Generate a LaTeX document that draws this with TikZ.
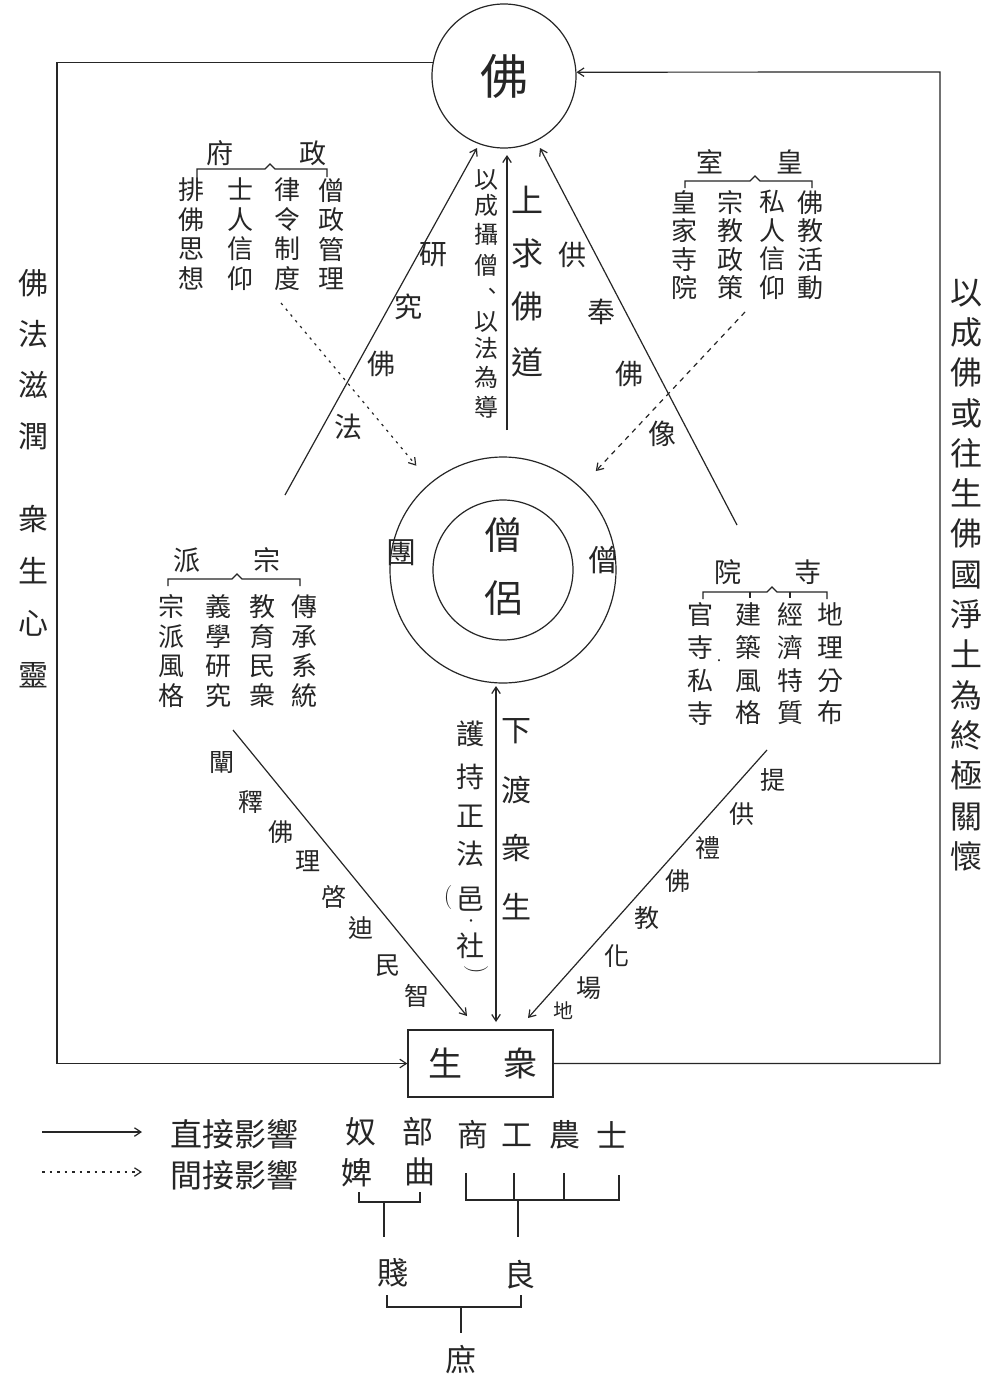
\documentclass[tikz,border=0pt]{standalone}
\usepackage{fontspec}
\newfontfamily\cjk{Noto Sans CJK TC}
\usetikzlibrary{arrows.meta}
\begin{document}
\begin{tikzpicture}[x=1pt,y=-1pt,
  ln/.style={line width=1.2pt,draw=black!85},
  arr/.style={-{Straight Barb[length=6.5pt,width=8.5pt]}},
  darr/.style={{Straight Barb[length=6.5pt,width=8.5pt]}-{Straight Barb[length=6.5pt,width=8.5pt]}},
  fs/.style={font=\cjk\fontsize{#1}{#1}\selectfont,inner sep=0pt,text=black!85},
  col/.style 2 args={font=\cjk\fontsize{#1}{#2}\selectfont,inner sep=0pt,align=center,text=black!85},
  dotl/.style={line width=1.2pt,draw=black!85,dash pattern=on 2.5pt off 5pt},
  dashl/.style={line width=1.2pt,draw=black!85,dash pattern=on 5pt off 5pt},
]
\useasboundingbox[fill=white] (0,0) rectangle (994,1386);

% ---- main circles and box
\node[circle,ln,draw,minimum size=144pt,inner sep=0pt,fs=48] (fo) at (504,76) {佛};
\node[circle,ln,draw,minimum size=226pt,inner sep=0pt] (sc) at (503,570) {};
\node[circle,ln,draw,minimum size=140pt,inner sep=0pt] (sci) at (503,570) {};
\node[fs=38] (sc1) at (503,535) {僧};
\node[fs=38] (sc2) at (503,598) {侶};
\node[fs=30] (sc3) at (401,553) {團};
\node[fs=30] (sc4) at (603,560) {僧};
\node[draw,ln,minimum width=145pt,minimum height=67pt,inner sep=0pt] (zs) at (480.5,1063.5) {};
\node[fs=34] (zs1) at (445,1063) {生};
\node[fs=34] (zs2) at (520,1063) {衆};

% ---- outer frame
\draw[ln,arr] (fo.169) -| (57,1063.5) -- (zs.west);
\draw[ln,arr] (zs.east) -| (940,72) -- (fo.3);

% ---- side texts
\node[col={30}{51}] (lt1) at (33,360) {佛\\法\\滋\\潤};
\node[col={30}{52}] (lt2) at (33,597) {衆\\生\\心\\靈};
\node[col={32}{40.3}] (rt) at (966,575) {以\\成\\佛\\或\\往\\生\\佛\\國\\淨\\土\\為\\終\\極\\關\\懷};

% ---- group: 政府
\node[fs=27] (zf1) at (220,153) {府};
\node[fs=27] (zf2) at (313,153) {政};
\draw[ln] (197,177) -- (197,169) -- (265,169) -- (270,164) -- (275,169) -- (327,169) -- (327,177);
\node[col={26}{29.5}] (zfa) at (331,234) {僧\\政\\管\\理};
\node[col={26}{29.5}] (zfb) at (287,234) {律\\令\\制\\度};
\node[col={26}{29.5}] (zfc) at (240,234) {士\\人\\信\\仰};
\node[col={26}{29.5}] (zfd) at (191,234) {排\\佛\\思\\想};

% ---- group: 皇室
\node[fs=27] (hs1) at (710,162) {室};
\node[fs=27] (hs2) at (790,162) {皇};
\draw[ln] (685,188) -- (685,181) -- (750,181) -- (755,176) -- (760,181) -- (812,181) -- (812,188);
\node[col={26}{28.5}] (hsa) at (810,245) {佛\\教\\活\\動};
\node[col={26}{28.5}] (hsb) at (772,245) {私\\人\\信\\仰};
\node[col={26}{28.5}] (hsc) at (730,245) {宗\\教\\政\\策};
\node[col={26}{28.5}] (hsd) at (684,245) {皇\\家\\寺\\院};

% ---- group: 宗派
\node[fs=27] (zp1) at (187,560) {派};
\node[fs=27] (zp2) at (267,560) {宗};
\draw[ln] (168,586) -- (168,579) -- (232,579) -- (237,574) -- (242,579) -- (300,579) -- (300,586);
\node[col={26}{29.5}] (zpa) at (304,651) {傳\\承\\系\\統};
\node[col={26}{29.5}] (zpb) at (262,651) {教\\育\\民\\衆};
\node[col={26}{29.5}] (zpc) at (218,651) {義\\學\\研\\究};
\node[col={26}{29.5}] (zpd) at (171,651) {宗\\派\\風\\格};

% ---- group: 寺院
\node[fs=27] (sy1) at (728,572) {院};
\node[fs=27] (sy2) at (808,572) {寺};
\draw[ln] (703,599) -- (703,592) -- (767,592) -- (772,587) -- (777,592) -- (827,592) -- (827,599);
\draw[ln] (750,592) -- (750,598) (790,592) -- (790,598);
\node[col={26}{32.7}] (sya) at (830,664) {地\\理\\分\\布};
\node[col={26}{32.7}] (syb) at (790,664) {經\\濟\\特\\質};
\node[col={26}{32.7}] (syc) at (748,664) {建\\築\\風\\格};
\node[col={26}{32.7}] (syd) at (700,664) {官\\寺\\私\\寺};
\node[fs=10] (sydot) at (719,662) {·};

% ---- indirect (dotted) influences
\coordinate (zfS) at (281,303);
\coordinate (hsS) at (745,312);
\draw[dotl,arr,shorten >=22pt] (zfS) -- (sc);
\draw[dashl,arr,shorten >=22pt] (hsS) -- (sc);

% ---- upper direct lines
\coordinate (upL) at (285,495);
\coordinate (upLt) at (477,148);
\coordinate (upR) at (737,525);
\coordinate (upRt) at (540,148);
\coordinate (upM) at (507,430);
\coordinate (upMt) at (507,155);
\draw[ln,arr] (upL) -- (upLt);
\draw[ln,arr] (upR) -- (upRt);
\draw[ln,arr] (upM) -- (upMt);

\foreach \c/\x/\y [count=\i] in {研/433/255,究/408/307,佛/381/364,法/348/427}
  \node[fs=28] (la\i) at (\x,\y) {\c};
\foreach \c/\x/\y [count=\i] in {供/572/255,奉/601/312,佛/629/374,像/662/434}
  \node[fs=28] (ra\i) at (\x,\y) {\c};
\foreach \c/\y [count=\i] in {上/200,求/253,佛/306,道/362}
  \node[fs=32] (ma\i) at (527,\y) {\c};
\foreach \c/\y [count=\i] in {以/180,成/205,攝/234,僧/265,以/322,法/348,為/377,導/407}
  \node[fs=24] (mb\i) at (486,\y) {\c};
\node[fs=22] (mbd) at (492,294) {、};

% ---- lower direct lines
\coordinate (loL) at (233,730);
\coordinate (loLt) at (467,1016);
\coordinate (loR) at (767,750);
\coordinate (loRt) at (528,1018);
\coordinate (loMt) at (496,686);
\coordinate (loMb) at (496,1022);
\draw[ln,arr] (loL) -- (loLt);
\draw[ln,arr] (loR) -- (loRt);
\draw[ln,darr] (loMb) -- (loMt);

\foreach \c/\x/\y [count=\i] in {闡/222/763,釋/251/802,佛/281/832,理/308/861,啓/334/897,迪/361/928,民/388/966,智/417/996}
  \node[fs=25] (lb\i) at (\x,\y) {\c};
\foreach \c/\x/\y [count=\i] in {提/773/780,供/742/814,禮/708/848,佛/678/881,教/647/918,化/617/956,場/589/988}
  \node[fs=25] (rb\i) at (\x,\y) {\c};
\node[fs=20] (rb8) at (563,1011) {地};
\foreach \c/\y [count=\i] in {下/731,渡/790,衆/848,生/907}
  \node[fs=30] (mc\i) at (516,\y) {\c};
\foreach \c/\y [count=\i] in {護/734,持/777,正/816,法/854,邑/899,社/946}
  \node[fs=28] (md\i) at (470,\y) {\c};
\node[fs=12] (mdd) at (471,923) {·};
\node[font=\fontsize{24}{24}\selectfont,inner sep=0pt,text=black!85] (mdp1) at (448,898) {(};
\node[font=\fontsize{24}{24}\selectfont,inner sep=0pt,text=black!85,rotate=-90] (mdp2) at (476,970) {)};

% ---- legend
\coordinate (lg1a) at (42,1132);
\coordinate (lg1b) at (142,1132);
\coordinate (lg2a) at (42,1172);
\coordinate (lg2b) at (142,1172);
\draw[ln,arr] (lg1a) -- (lg1b);
\draw[dotl,arr] (lg2a) -- (lg2b);
\node[fs=32,anchor=west] (lgt1) at (170,1134) {直接影響};
\node[fs=32,anchor=west] (lgt2) at (170,1175) {間接影響};

% ---- social classes
\node[fs=31] (c1) at (361,1132) {奴};
\node[fs=31] (c2) at (357,1173) {婢};
\node[fs=31] (c3) at (418,1132) {部};
\node[fs=31] (c4) at (420,1172) {曲};
\node[fs=31] (c5) at (473,1135) {商};
\node[fs=31] (c6) at (517,1135) {工};
\node[fs=31] (c7) at (565,1135) {農};
\node[fs=31] (c8) at (612,1135) {士};
\node[fs=31] (c9) at (393,1273) {賤};
\node[fs=31] (c10) at (520,1275) {良};
\node[fs=31] (c11) at (461,1360) {庶};
\draw[ln] (359,1192) -- (359,1202) -- (420,1202) -- (420,1192);
\draw[ln] (384,1202) -- (384,1237);
\draw[ln] (466,1173) -- (466,1200) -- (619,1200) -- (619,1175);
\draw[ln] (514,1173) -- (514,1200) (564,1173) -- (564,1200);
\draw[ln] (518,1200) -- (518,1237);
\draw[ln] (387,1295) -- (387,1307) -- (521,1307) -- (521,1295);
\draw[ln] (461,1307) -- (461,1333);
\end{tikzpicture}
\end{document}
